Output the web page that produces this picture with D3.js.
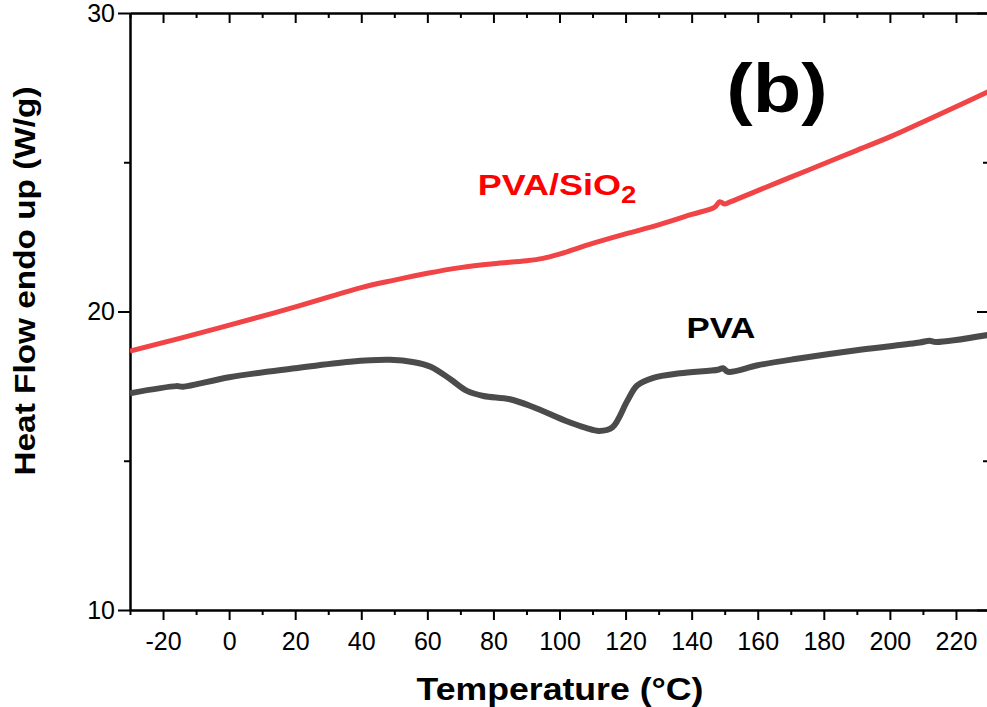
<!DOCTYPE html>
<html>
<head>
<meta charset="utf-8">
<script src="https://cdn.jsdelivr.net/npm/d3@7"></script>
<style>
  body { margin: 0; background: #fff; }
  svg { display: block; }
  text { font-family: "Liberation Sans", Arial, Helvetica, sans-serif; }
  .axis path, .axis line { stroke: #000; stroke-width: 2px; }
  .axis text { font-size: 25px; fill: #000; }
</style>
</head>
<body>
<script>
// DSC traces (temperature in °C, heat flow in W/g)
const pvaTemp = [-30, -16, -14, 0, 20, 36.6, 48.7, 56, 61, 67, 72, 77, 85, 92, 102, 108, 112, 116, 120.5, 123.5, 128.4, 136.5, 148, 149.5, 151, 160, 170.8, 191, 209, 212, 214, 230]
const pvaFlow = [17.26, 17.50, 17.48, 17.80, 18.10, 18.32, 18.38, 18.30, 18.15, 17.73, 17.34, 17.17, 17.06, 16.80, 16.33, 16.10, 16.00, 16.12, 17.00, 17.52, 17.78, 17.93, 18.05, 18.10, 17.98, 18.20, 18.40, 18.72, 18.96, 19.02, 18.98, 19.22]

const sioTemp = [-30, -3, 19, 40, 50, 60, 70, 80, 90, 95, 100, 110, 120, 130, 140, 147, 148.5, 150, 151, 160, 170, 180, 190, 200, 210, 220, 230]
const sioFlow = [18.67, 19.45, 20.12, 20.80, 21.05, 21.28, 21.47, 21.60, 21.70, 21.78, 21.92, 22.28, 22.60, 22.90, 23.25, 23.50, 23.68, 23.60, 23.64, 24.05, 24.50, 24.95, 25.40, 25.85, 26.35, 26.86, 27.38]

const xMajor = [-20, 0, 20, 40, 60, 80, 100, 120, 140, 160, 180, 200, 220]
const xMinor = [-30, -10, 10, 30, 50, 70, 90, 110, 130, 150, 170, 190, 210, 230]
const yMajor = [10, 20, 30]
const yMinor = [15, 25]

const W = 987, H = 707
const m = {left:130, top:13, right:989, bottom:610}

const svg = d3.select('body').append('svg')
  .attr('width', W).attr('height', H)

const x = d3.scaleLinear().domain([-30, 230]).range([m.left, m.right])
const y = d3.scaleLinear().domain([10, 30]).range([m.bottom, m.top])

// frame axes
function drawAxis(axis, tx, ty, labels){
  const g = svg.append('g').attr('class','axis')
    .attr('transform', `translate(${tx},${ty})`)
    .call(axis.tickFormat(d => String(d)))
  if(!labels) g.selectAll('text').remove()
  return g
}

// minor ticks first so major ones draw over
drawAxis(d3.axisBottom(x).tickValues(xMinor).tickSize(5).tickSizeOuter(0), 0, m.bottom, false)
drawAxis(d3.axisTop(x).tickValues(xMinor).tickSize(-5).tickSizeOuter(0), 0, m.top, false)
drawAxis(d3.axisLeft(y).tickValues(yMinor).tickSize(6).tickSizeOuter(0), m.left, 0, false)
drawAxis(d3.axisRight(y).tickValues(yMinor).tickSize(-6).tickSizeOuter(0), m.right, 0, false)

const bottom = drawAxis(d3.axisBottom(x).tickValues(xMajor).tickSize(10).tickSizeOuter(0).tickPadding(11), 0, m.bottom, true)
bottom.selectAll('text').attr('dy', '0.75em')
drawAxis(d3.axisTop(x).tickValues(xMajor).tickSize(-10).tickSizeOuter(0), 0, m.top, false)
const left = drawAxis(d3.axisLeft(y).tickValues(yMajor).tickSize(12).tickSizeOuter(0).tickPadding(3), m.left, 0, true)
drawAxis(d3.axisRight(y).tickValues(yMajor).tickSize(-12).tickSizeOuter(0), m.right, 0, false)

// curves
const line = d3.line()
  .x(d => x(d[0]))
  .y(d => y(d[1]))
  .curve(d3.curveCatmullRom.alpha(0.5))

svg.append('clipPath').attr('id','plot')
  .append('rect').attr('x', m.left).attr('y', m.top)
  .attr('width', m.right-m.left).attr('height', m.bottom-m.top)

svg.append('path')
  .datum(d3.zip(sioTemp, sioFlow))
  .attr('clip-path','url(#plot)')
  .attr('d', line)
  .attr('fill','none')
  .attr('stroke','#f04446')
  .attr('stroke-width',5)
  .attr('stroke-linejoin','round')

svg.append('path')
  .datum(d3.zip(pvaTemp, pvaFlow))
  .attr('clip-path','url(#plot)')
  .attr('d', line)
  .attr('fill','none')
  .attr('stroke','#4b4b4b')
  .attr('stroke-width',6)
  .attr('stroke-linejoin','round')

// texts, slightly widened like the source figure
function label(tx, ty, str, size, color, rot, sx){
  return svg.append('text')
    .attr('transform', `translate(${tx},${ty}) rotate(${rot||0}) scale(${sx||1.15},1)`)
    .attr('text-anchor','middle')
    .attr('font-weight','bold')
    .attr('font-size', size)
    .attr('fill', color)
    .text(str)
}

label(560, 700, 'Temperature (°C)', 31, '#000')
label(35, 281, 'Heat Flow endo up (W/g)', 29, '#000', -90)
label(777, 112, '(b)', 69, '#000')
label(721, 338, 'PVA', 29, '#000', 0, 1.2)

const sio = label(557, 195, 'PVA/SiO', 30, '#ff0000', 0, 1.2)
sio.append('tspan').attr('font-size', 23).attr('dy', 8).text('2')
</script>
</body>
</html>
